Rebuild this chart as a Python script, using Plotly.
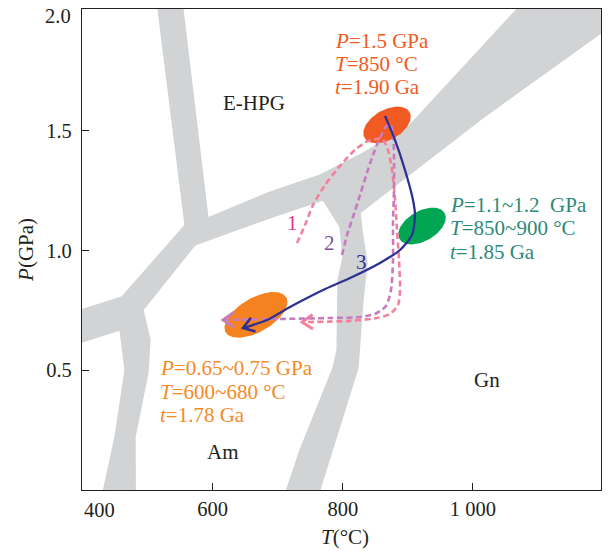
import numpy as np
import plotly.graph_objects as go

# ---------------- data (T in °C, P in GPa) ----------------
X_RANGE = [399, 1197]
Y_RANGE = [0, 2.008]

x_tickvals = [600, 800, 1000]
x_ticktext = ["600", "800", "1 000"]
y_tickvals = [0.5, 1.0, 1.5]
y_ticktext = ["0.5", "1.0", "1.5"]

# grey facies-boundary bands (polygons)
band_north_T = [514.3, 552.8, 592.7, 572.7, 557.4]
band_north_P = [2.04, 2.04, 1.136, 1.023, 1.106]
band_sw_T = [557.4, 572.7, 492.8, 460.5]
band_sw_P = [1.106, 1.023, 0.752, 0.806]
band_west_T = [390, 460.5, 492.8, 457.4, 390]
band_west_P = [0.745, 0.806, 0.752, 0.668, 0.610]
band_south_T = [457.4, 465.1, 449.7, 430.5, 481.0, 480.5, 500.5, 503.6, 492.8]
band_south_P = [0.668, 0.501, 0.221, -0.02, -0.02, 0.221, 0.489, 0.626, 0.752]
band_main_T = [592.7, 688.1, 764.9, 831.1, 903.3, 1079, 1215, 1215, 1011.0, 826.5, 769.6, 688.1, 572.7]
band_main_P = [1.136, 1.244, 1.315, 1.407, 1.524, 2.04, 2.04, 1.943, 1.545, 1.157, 1.211, 1.136, 1.023]
band_mid_T = [769.6, 795.7, 800.4, 792.6, 791.1, 784.9, 734.2, 711.0, 762.4, 823.4, 831.1, 837.2, 829.5, 826.5]
band_mid_P = [1.211, 1.098, 0.973, 0.877, 0.585, 0.509, 0.167, -0.02, -0.02, 0.509, 0.793, 0.948, 1.086, 1.157]

# metamorphic stage ellipses: centre T, centre P
ell_T = [868.0, 921.8, 666.5]
ell_P = [1.524, 1.102, 0.731]
ell_colors = ["#F15A22", "#00A651", "#F58220"]
ell_major = [26, 26, 35]   # screen half-axes (px)
ell_minor = [15, 15, 17]

# P-T paths
path1_T = [729.6, 741.9, 754.2, 772.6, 795.7, 818.8, 838.8, 860.3, 869.5, 875.7, 880.3, 883.3, 886.4, 888.0, 884.9, 872.6, 852.6, 811.1, 737.3]
path1_P = [1.031, 1.106, 1.190, 1.273, 1.353, 1.420, 1.457, 1.466, 1.420, 1.336, 1.211, 1.086, 0.960, 0.835, 0.772, 0.735, 0.718, 0.706, 0.701]
path2_T = [798.8, 806.5, 815.7, 826.5, 837.2, 846.4, 857.2, 866.4, 872.6, 877.2, 878.7, 878.7, 877.2, 877.2, 874.1, 866.4, 849.5, 826.5, 780.3, 703.4, 615.8]
path2_P = [0.981, 1.065, 1.140, 1.232, 1.324, 1.399, 1.470, 1.516, 1.528, 1.495, 1.390, 1.253, 1.115, 0.960, 0.835, 0.768, 0.735, 0.722, 0.718, 0.714, 0.710]
path3_T = [864.9, 880.3, 895.6, 907.9, 911.0, 906.4, 888.0, 857.2, 811.1, 769.6, 718.8, 683.5, 646.6]
path3_P = [1.562, 1.461, 1.336, 1.211, 1.148, 1.065, 1.002, 0.948, 0.885, 0.835, 0.764, 0.710, 0.676]

# ---------------- styling / geometry ----------------
W, H = 608, 551
M = dict(l=82, r=7, t=9, b=61)
PW, PH = W - M["l"] - M["r"], H - M["t"] - M["b"]
xs = PW / (X_RANGE[1] - X_RANGE[0])
ys = PH / (Y_RANGE[1] - Y_RANGE[0])

GREY = "#D1D3D4"
INK = "#231F20"
FONT = "Liberation Serif"
RED, GREEN_T, ORANGE_T = "#F15A22", "#2B8A78", "#F58A1F"
BLUE, PINK, PURPLE = "#2E3192", "#F4819C", "#C77BBF"


def ellipse(tc, pc, a, b, ang=30):
    t = np.linspace(0, 2 * np.pi, 120)
    th = np.radians(ang)
    dx = a * np.cos(t) * np.cos(th) - b * np.sin(t) * np.sin(th)
    dy = a * np.cos(t) * np.sin(th) + b * np.sin(t) * np.cos(th)
    return tc + dx / xs, pc + dy / ys


def chevron(T, P, length=13, half=34):
    vx = (T[-1] - T[-2]) * xs
    vy = (P[-1] - P[-2]) * ys
    n = np.hypot(vx, vy)
    bx, by = -vx / n, -vy / n
    tx, ty = [], []
    for s in (1, -1):
        a = np.radians(half) * s
        rx = bx * np.cos(a) - by * np.sin(a)
        ry = bx * np.sin(a) + by * np.cos(a)
        tx.append(T[-1] + rx * length / xs)
        ty.append(P[-1] + ry * length / ys)
    return [tx[0], T[-1], tx[1]], [ty[0], P[-1], ty[1]]


fig = go.Figure()

for bt, bp in [(band_north_T, band_north_P), (band_sw_T, band_sw_P), (band_west_T, band_west_P),
               (band_south_T, band_south_P), (band_main_T, band_main_P), (band_mid_T, band_mid_P)]:
    fig.add_trace(go.Scatter(x=bt + bt[:1], y=bp + bp[:1], mode="lines", fill="toself", fillcolor=GREY,
                             line=dict(width=1.2, color=GREY), hoverinfo="skip", showlegend=False))

for tc, pc, col, a, b in zip(ell_T, ell_P, ell_colors, ell_major, ell_minor):
    ex, ey = ellipse(tc, pc, a, b)
    fig.add_trace(go.Scatter(x=ex, y=ey, mode="lines", fill="toself", fillcolor=col,
                             line=dict(width=0, color=col), hoverinfo="skip", showlegend=False))

for T, P, col, dash, w in [(path1_T, path1_P, PINK, "6px,3.5px", 2.6),
                           (path2_T, path2_P, PURPLE, "6px,3.5px", 2.6),
                           (path3_T, path3_P, BLUE, None, 2.3)]:
    fig.add_trace(go.Scatter(x=T, y=P, mode="lines", line=dict(color=col, width=w, dash=dash, shape="spline", smoothing=0.7),
                             hoverinfo="skip", showlegend=False))
    cx, cy = chevron(T, P)
    fig.add_trace(go.Scatter(x=cx, y=cy, mode="lines", line=dict(color=col, width=w + 0.3),
                             hoverinfo="skip", showlegend=False))

ann = []


def txt(x, y, s, color=INK, size=21, xanchor="left", xref="x", yref="y", **kw):
    ann.append(dict(x=x, y=y, text=s, xref=xref, yref=yref, showarrow=False, xanchor=xanchor,
                    yanchor="middle", font=dict(family=FONT, size=size, color=color), **kw))


# stage labels
for y, s in zip([1.875, 1.779, 1.683], ["<i>P</i>=1.5 GPa", "<i>T</i>=850 °C", "<i>t</i>=1.90 Ga"]):
    txt(784.9, y, s, RED)
for y, s in zip([1.190, 1.094, 0.994], ["<i>P</i>=1.1~1.2\u00a0\u00a0GPa", "<i>T</i>=850~900 °C", "<i>t</i>=1.85 Ga"]):
    txt(961.8, y, s, GREEN_T)
for y, s in zip([0.509, 0.409, 0.313], ["<i>P</i>=0.65~0.75 GPa", "<i>T</i>=600~680 °C", "<i>t</i>=1.78 Ga"]):
    txt(515.9, y, s, ORANGE_T)

txt(663.5, 1.616, "E-HPG", xanchor="center")
txt(1021.7, 0.459, "Gn", xanchor="center")
txt(615.8, 0.159, "Am", xanchor="center")
txt(721.9, 1.115, "1", "#E8308A", xanchor="center")
txt(780.3, 1.031, "2", "#7E4F9E", xanchor="center")
txt(829.5, 0.952, "3", BLUE, xanchor="center")

# edge tick labels and axis titles
txt(0, -0.042, "400", xref="paper", yref="paper", size=20.5)
txt(-0.017, 1.0, "2.0", xref="paper", yref="paper", size=20.5, xanchor="right", yshift=-7)
txt(0.507, -0.098, "<i>T</i>(°C)", xref="paper", yref="paper", xanchor="center")
txt(-0.108, 0.499, "<i>P</i>(GPa)", xref="paper", yref="paper", xanchor="center", textangle=-90)

axis_common = dict(showline=True, mirror=True, linecolor=INK, linewidth=1.3, ticks="inside",
                   ticklen=7, tickwidth=1.2, tickcolor=INK, showgrid=False, zeroline=False,
                   tickfont=dict(family=FONT, size=20.5, color=INK))

fig.update_layout(
    width=W, height=H, margin=M, paper_bgcolor="white", plot_bgcolor="white",
    xaxis=dict(range=X_RANGE, tickvals=x_tickvals, ticktext=x_ticktext, ticklabelstandoff=0, **axis_common),
    yaxis=dict(range=Y_RANGE, tickvals=y_tickvals, ticktext=y_ticktext, ticklabelstandoff=5, **axis_common),
    annotations=ann, showlegend=False,
)

fig.write_html("out.html")
